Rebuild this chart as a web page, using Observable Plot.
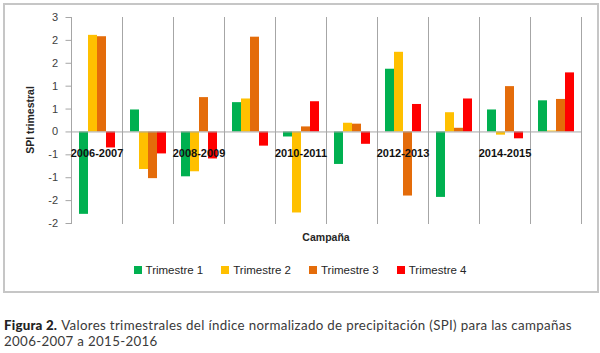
<!DOCTYPE html>
<html>
<head>
<meta charset="utf-8">
<script src="https://cdn.jsdelivr.net/npm/d3@7"></script>
<script src="https://cdn.jsdelivr.net/npm/@observablehq/plot@0.6"></script>
<style>
  html, body { margin: 0; padding: 0; background: #fff; }
  body { width: 600px; height: 353px; position: relative; overflow: hidden; font-family: "Liberation Sans", Arial, sans-serif; }
  #border { position: absolute; left: 3px; top: 3px; width: 592px; height: 286px; border: 2px solid #c6c6c6; pointer-events: none; }
  #chart { position: absolute; left: 0; top: 0; }
  #ylabel { position: absolute; left: 30px; top: 120px; transform: translate(-50%, -50%) rotate(-90deg); font-weight: bold; font-size: 10.5px; color: #262626; white-space: nowrap; }
  #xlabel { position: absolute; left: 326px; top: 237px; transform: translate(-50%, -50%); font-weight: bold; font-size: 10.5px; color: #262626; white-space: nowrap; }
  #legend { position: absolute; left: 0; width: 600px; top: 264px; display: flex; justify-content: center; gap: 18px; font-size: 11.5px; color: #262626; }
  #legend .item { display: flex; align-items: center; gap: 4px; }
  #legend .sw { width: 8px; height: 8px; display: inline-block; }
  #caption { position: absolute; left: 4px; top: 317px; width: 596px; font-family: Lato, sans-serif; font-size: 13.3px; line-height: 16px; color: #3a3a3a; }
  #caption div { white-space: nowrap; letter-spacing: 0.33px; }
  #caption b { color: #222; margin-right: 4px; font-weight: 900; letter-spacing: 0.2px; }
</style>
</head>
<body>
<div id="chart"></div>
<div id="ylabel"></div>
<div id="xlabel"></div>
<div id="legend"></div>
<div id="caption"></div>
<div id="border"></div>
<script>
const campaigns = ["2006-2007","2007-2008","2008-2009","2009-2010","2010-2011","2011-2012","2012-2013","2013-2014","2014-2015","2015-2016"];
const shownCampaignLabels = ["2006-2007","2008-2009","2010-2011","2012-2013","2014-2015"];
const trimestres = ["Trimestre 1","Trimestre 2","Trimestre 3","Trimestre 4"];
const colors = ["#00b050","#ffc000","#e46c0a","#ff0000"];
const t1 = [-1.80, 0.48, -0.98, 0.64, -0.11, -0.71, 1.37, -1.43, 0.48, 0.68];
const t2 = [2.11, -0.82, -0.87, 0.72, -1.77, 0.19, 1.74, 0.42, -0.07, 0.02];
const t3 = [2.08, -1.02, 0.75, 2.07, 0.11, 0.17, -1.40, 0.08, 0.99, 0.71];
const t4 = [-0.35, -0.48, -0.59, -0.31, 0.66, -0.27, 0.60, 0.72, -0.15, 1.29];
const yTickValues = [-2, -1.5, -1, -0.5, 0, 0.5, 1, 1.5, 2, 2.5];
const yTickLabels = ["-2", "-2", "-1", "-1", "0", "1", "1", "2", "2", "3"];
const yLabel = "SPI trimestral";
const xLabel = "Campaña";
const captionBold = "Figura 2.";
const captionLine1 = "Valores trimestrales del índice normalizado de precipitación (SPI) para las campañas";
const captionLine2 = "2006-2007 a 2015-2016";

const series = [t1, t2, t3, t4];
const data = [];
campaigns.forEach((c, i) => {
  trimestres.forEach((t, j) => data.push({campaign: c, trimestre: t, value: series[j][i]}));
});

const plot = Plot.plot({
  width: 600,
  height: 250,
  marginLeft: 69,
  marginRight: 17,
  marginTop: 17,
  marginBottom: 27,
  style: {fontFamily: "Liberation Sans, Arial, sans-serif", fontSize: "11px", background: "transparent"},
  fx: {domain: campaigns, padding: 0, axis: null},
  x: {domain: trimestres, paddingInner: 0, paddingOuter: 0.68, axis: null},
  y: {domain: [-2, 2.5]},
  color: {domain: trimestres, range: colors},
  marks: [
    Plot.frame({anchor: "left", stroke: "#a6a6a6"}),
    Plot.frame({anchor: "right", stroke: "#a6a6a6"}),
    Plot.barY(data, {fx: "campaign", x: "trimestre", y: "value", fill: "trimestre"}),
    Plot.ruleY([0], {stroke: "#a6a6a6"}),
    Plot.axisY({ticks: yTickValues, tickFormat: d => yTickLabels[yTickValues.indexOf(d)], tickSize: 5.5, tickPadding: 8, stroke: "#a6a6a6", fill: "#404040", label: null}),
    Plot.text(shownCampaignLabels, {fx: d => d, y: () => 0, text: d => d, dy: 22, fontWeight: "bold", fontSize: 11, fill: "#111"})
  ]
});
document.getElementById("chart").appendChild(plot);
document.getElementById("ylabel").textContent = yLabel;
document.getElementById("xlabel").textContent = xLabel;

const legend = document.getElementById("legend");
trimestres.forEach((t, j) => {
  const item = document.createElement("div");
  item.className = "item";
  const sw = document.createElement("span");
  sw.className = "sw";
  sw.style.background = colors[j];
  const lab = document.createElement("span");
  lab.textContent = t;
  item.appendChild(sw); item.appendChild(lab);
  legend.appendChild(item);
});

const cap = document.getElementById("caption");
const l1 = document.createElement("div");
const b = document.createElement("b");
b.textContent = captionBold;
l1.appendChild(b);
l1.appendChild(document.createTextNode(captionLine1));
const l2 = document.createElement("div");
l2.textContent = captionLine2;
cap.appendChild(l1);
cap.appendChild(l2);
</script>
</body>
</html>
